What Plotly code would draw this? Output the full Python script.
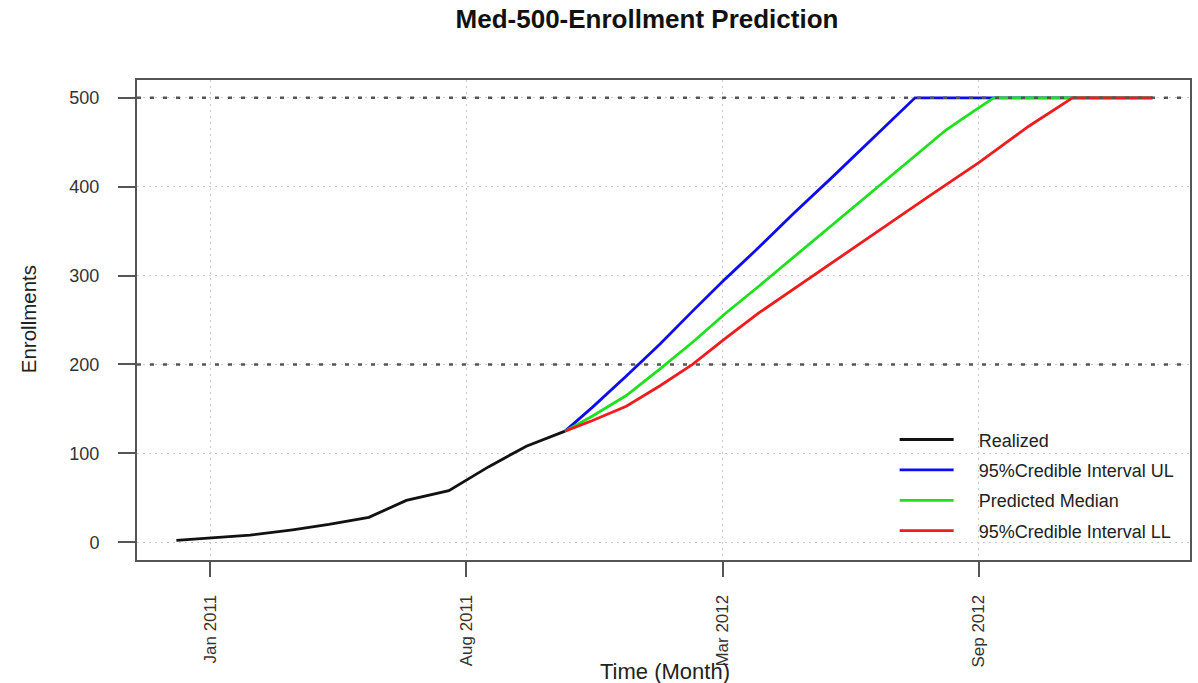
import plotly.graph_objects as go

# Realized cumulative enrollments
realized_dates = ["2010-12-24", "2011-01-20", "2011-02-21", "2011-03-27", "2011-04-25",
                  "2011-05-27", "2011-06-26", "2011-07-30", "2011-08-31", "2011-09-30",
                  "2011-10-31"]
realized_vals = [2, 5, 8, 14, 20, 28, 47, 58, 85, 108, 125]

# 95% credible interval, upper limit
ul_dates = ["2011-10-31", "2011-11-22", "2011-12-19", "2012-01-15", "2012-02-10",
            "2012-03-07", "2012-04-01", "2012-05-01", "2012-06-01", "2012-07-01",
            "2012-08-06", "2013-02-12"]
ul_vals = [125, 152, 187, 223, 260, 296, 329, 370, 411, 451, 500, 500]

# Predicted median
med_dates = ["2011-10-31", "2011-11-22", "2011-12-19", "2012-01-15", "2012-02-10",
             "2012-03-07", "2012-04-03", "2012-06-06", "2012-07-08", "2012-08-31",
             "2012-09-22", "2012-10-08", "2013-02-12"]
med_vals = [125, 142, 165, 195, 225, 257, 288, 363, 400, 464, 485, 500, 500]

# 95% credible interval, lower limit
ll_dates = ["2011-10-31", "2011-11-22", "2011-12-19", "2012-01-15", "2012-02-10",
            "2012-03-07", "2012-04-03", "2012-06-06", "2012-07-08", "2012-08-17",
            "2012-09-26", "2012-11-05", "2012-12-10", "2013-02-12"]
ll_vals = [125, 137, 153, 176, 200, 229, 258, 320, 351, 389, 427, 468, 500, 500]

tick_dates = ["2011-01-20", "2011-08-13", "2012-03-05", "2012-09-26"]
tick_labels = ["Jan 2011", "Aug 2011", "Mar 2012", "Sep 2012"]
y_ticks = [0, 100, 200, 300, 400, 500]
ref_levels = [200, 500]

FONT = "Liberation Sans, Arial, Helvetica, sans-serif"
AXIS_COL = "#555555"
PAD = "\u00a0" * 4  # gap between legend key and its label

fig = go.Figure()
series = [
    ("Realized", realized_dates, realized_vals, "#111111"),
    ("95%Credible Interval UL", ul_dates, ul_vals, "#0c0cee"),
    ("Predicted Median", med_dates, med_vals, "#1ee01e"),
    ("95%Credible Interval LL", ll_dates, ll_vals, "#ee1c1c"),
]
for i, (name, xs, ys, col) in enumerate(series):
    fig.add_trace(go.Scatter(
        x=xs, y=ys, mode="lines", name=PAD + name, legendgroup=f"g{i}",
        line=dict(color=col, width=2.8),
    ))

# Dark dotted reference lines drawn over the series
for lvl in ref_levels:
    fig.add_shape(type="line", xref="paper", x0=0, x1=1, yref="y", y0=lvl, y1=lvl,
                  line=dict(color="#555555", width=2.6, dash="4px,9px"), layer="above")

fig.update_layout(
    width=1198, height=683,
    margin=dict(l=137, r=6, t=80, b=123),
    paper_bgcolor="white", plot_bgcolor="white",
    font=dict(family=FONT, color="#333333"),
    title=dict(text="<b>Med-500-Enrollment Prediction</b>", x=647 / 1198, xanchor="center",
               y=1 - 19 / 683, yanchor="middle", yref="container",
               font=dict(size=26, color="#111111", family=FONT)),
    showlegend=True,
    legend=dict(x=0.7195, y=0.289, xanchor="left", yanchor="top",
                bgcolor="rgba(0,0,0,0)", borderwidth=0, tracegroupgap=4,
                font=dict(size=18, color="#222222", family=FONT), itemwidth=54),
    xaxis=dict(
        type="date", range=["2010-11-22 12:00", "2013-03-14"],
        tickmode="array", tickvals=tick_dates, ticktext=tick_labels,
        tickangle=-90, tickfont=dict(size=17, color="#333333"),
        ticks="outside", ticklen=15, tickwidth=2, tickcolor=AXIS_COL,
        ticklabelstandoff=11,
        showline=True, mirror=True, linecolor=AXIS_COL, linewidth=2,
        showgrid=True, gridcolor="#cbcbcb", gridwidth=1.3, griddash="2px,4px",
        zeroline=False,
    ),
    yaxis=dict(
        range=[-20, 520], tickmode="array", tickvals=y_ticks,
        tickfont=dict(size=18, color="#333333"),
        ticks="outside", ticklen=17, tickwidth=2, tickcolor=AXIS_COL,
        ticklabelstandoff=15,
        showline=True, mirror=True, linecolor=AXIS_COL, linewidth=2,
        showgrid=True, gridcolor="#cbcbcb", gridwidth=1.3, griddash="2px,4px",
        zeroline=False,
    ),
    annotations=[
        dict(text="Time (Month)", xref="paper", yref="paper", x=(666 - 137) / 1055,
             y=-(671 - 560) / 480, xanchor="center", yanchor="middle", showarrow=False,
             font=dict(size=22, color="#222222", family=FONT)),
        dict(text="Enrollments", xref="paper", yref="paper", x=-(137 - 28) / 1055,
             y=1 - (319 - 80) / 480, xanchor="center", yanchor="middle", textangle=-90,
             showarrow=False, font=dict(size=20.5, color="#222222", family=FONT)),
    ],
)

fig.write_html("out.html")
